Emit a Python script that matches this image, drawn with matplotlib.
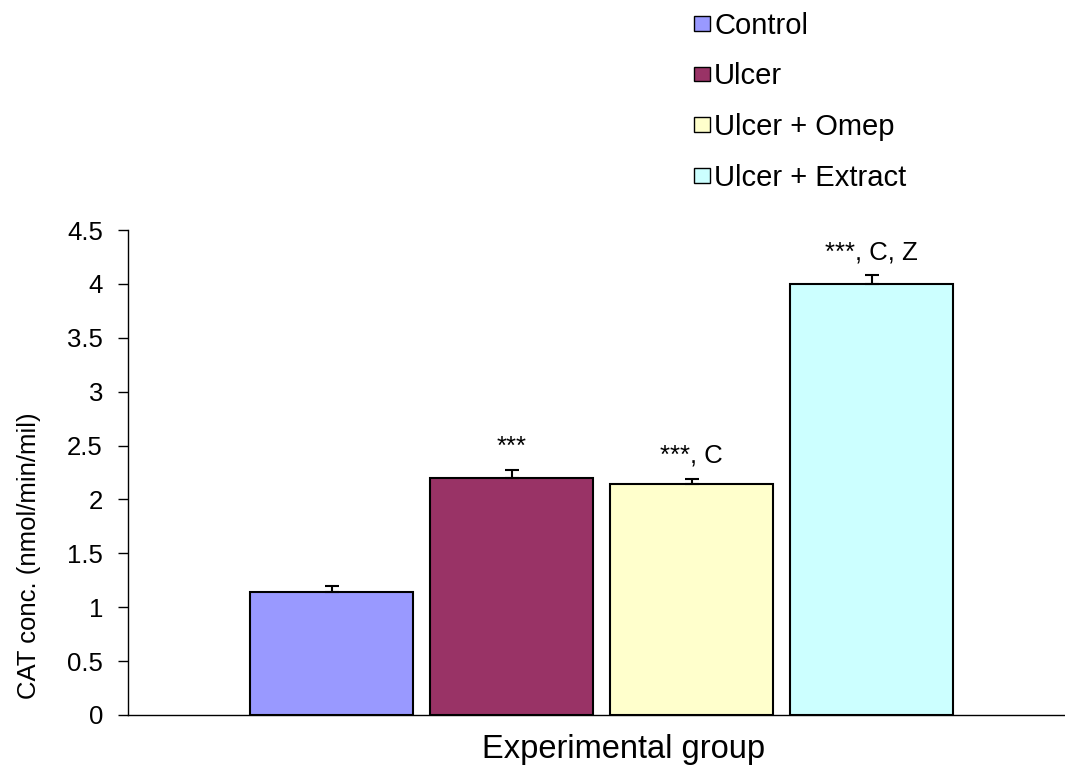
import matplotlib
matplotlib.use("Agg")
import matplotlib.pyplot as plt
from matplotlib.patches import Patch

plt.rcParams['font.family'] = ['Liberation Sans', 'DejaVu Sans']

groups = ["Control", "Ulcer", "Ulcer + Omep", "Ulcer + Extract"]
means = [1.14, 2.20, 2.14, 4.00]
errors = [0.06, 0.07, 0.05, 0.08]
labels_sig = ["", "***", "***, C", "***, C, Z"]
colors = ["#9999FF", "#993366", "#FFFFCC", "#CCFFFF"]
yticks = [0, 0.5, 1, 1.5, 2, 2.5, 3, 3.5, 4, 4.5]

fig = plt.figure(figsize=(10.65, 7.66), dpi=100)
ax = fig.add_axes([128/1065, 1-715/766, 1-128/1065, (715-230)/766])

x = list(range(len(groups)))
bars = ax.bar(x, means, width=163/180, color=colors, edgecolor="black", linewidth=1.5,
              yerr=[[0]*len(errors), errors], capsize=5,
              error_kw=dict(ecolor="black", elinewidth=1.5, capthick=1.5), zorder=2)

for xi, m, e, s in zip(x, means, errors, labels_sig):
    if s:
        ax.text(xi, m + e + 0.15, s, ha="center", va="baseline", fontsize=18.5)

ax.set_xlim(-1.131, 4.075)
ax.set_ylim(0, 4.5)
ax.set_yticks(yticks)
ax.set_yticklabels([f"{t:g}" for t in yticks])
ax.set_xticks([])
ax.tick_params(axis="y", direction="out", length=7, width=1, labelsize=18.5, pad=11)
for side in ["top", "right"]:
    ax.spines[side].set_visible(False)
ax.spines["left"].set_linewidth(1)
ax.spines["bottom"].set_linewidth(1)

fig.text(29/1065, 1-556/766, "CAT conc. (nmol/min/mil)", rotation=90,
         ha="center", va="center", fontsize=18.5)
fig.text(624/1065, 1-758/766, "Experimental group", ha="center", va="baseline",
         fontsize=23.5)

handles = [Patch(facecolor=c, edgecolor="black", linewidth=1) for c in colors]
fig.legend(handles, groups, loc="upper left", bbox_to_anchor=(682/1065, 1.0),
           frameon=False, fontsize=21, handlelength=0.55, handleheight=0.4,
           handletextpad=0.15, labelspacing=0.78, borderaxespad=0)

fig.savefig("out.png", dpi=100)
